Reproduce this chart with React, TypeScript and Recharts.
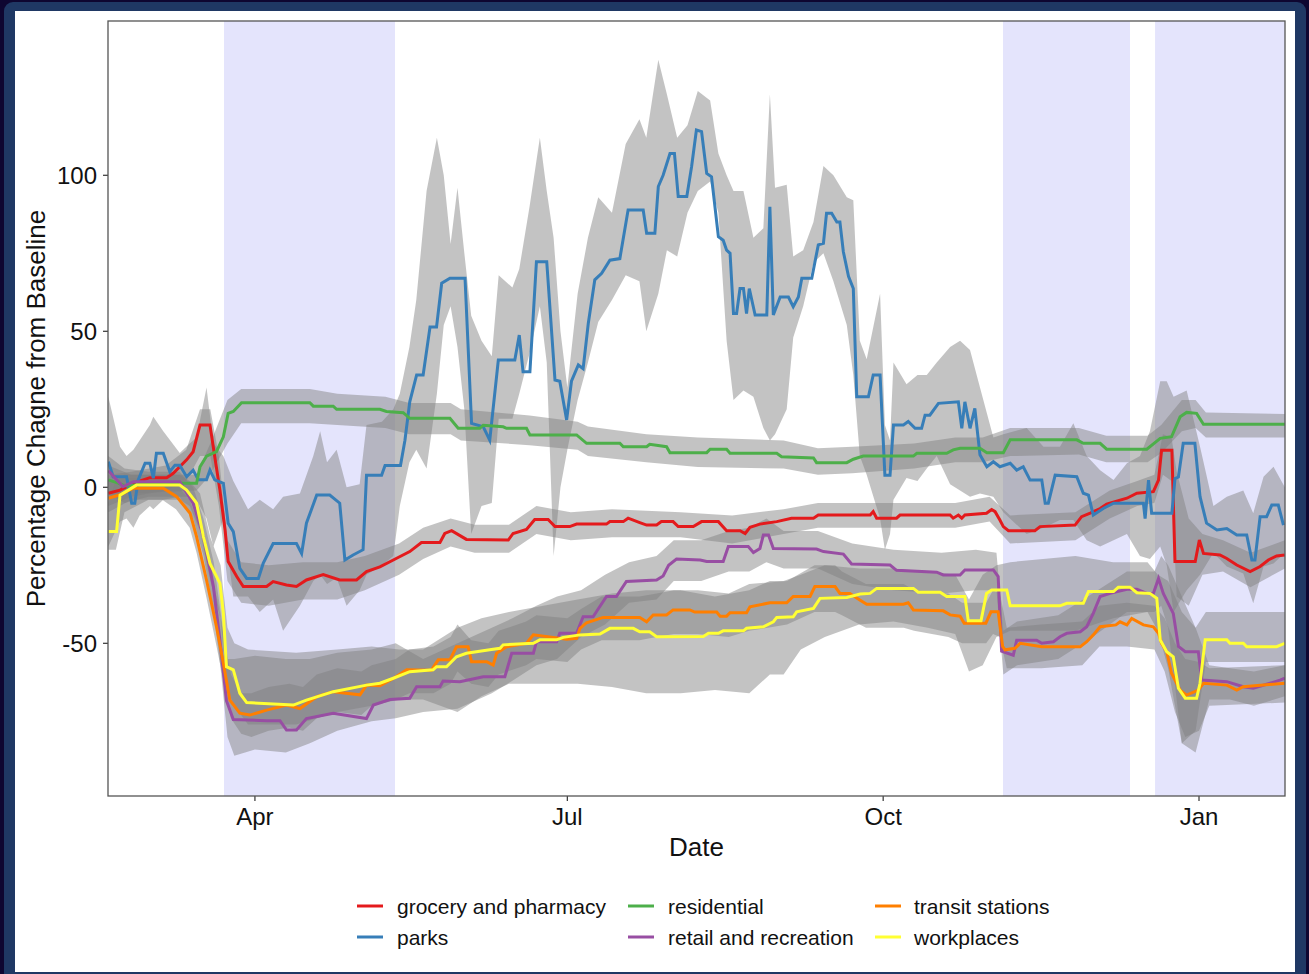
import React from "react";
import { ComposedChart, Area, Line, XAxis, YAxis, ReferenceArea } from "recharts";

// x = days since 15 Feb 2020
const monthTicks = [46, 137, 229, 321];
const monthLabels = ["Apr", "Jul", "Oct", "Jan"];
const yTicks = [-50, 0, 50, 100];
const lockdowns: [number, number][] = [[37, 86.8], [263.9, 300.9], [308.2, 346.05]];

const groceryLine: [number, number][] = [[3.3,-1.9],[6.7,-0.9],[10.6,1.3],[15.4,3.1],[20.3,3.1],[22.2,4.5],[26.1,8.8],[28,11.4],[30,20],[32.9,20],[34.3,9.8],[35.8,-0.9],[37.3,-13.7],[38.2,-23.8],[40.7,-28.6],[42.6,-31.8],[49.4,-31.8],[51.3,-30.2],[55.2,-31.3],[58.1,-31.8],[61,-29.7],[65.9,-28],[70.7,-29.7],[75.6,-29.7],[78.5,-27],[82.4,-25.5],[86.3,-23.3],[91.1,-20.6],[94.5,-17.7],[99.9,-17.7],[101.3,-14.8],[103.3,-13.9],[107.6,-16.7],[119.8,-16.9],[121.2,-14.8],[125.1,-13.5],[127.5,-10.3],[131.4,-10.3],[133.4,-12.6],[137.7,-12.6],[139.7,-11.8],[148.4,-11.8],[149.4,-11],[153.3,-11],[154.7,-9.9],[158.1,-11.3],[160.1,-12.1],[163,-12.1],[164.4,-11],[167.8,-11],[169.3,-12.6],[173.7,-12.6],[176.1,-11],[181,-11],[183.4,-13.9],[187.3,-13.9],[188.8,-14.8],[190.2,-12.8],[193.1,-11.8],[198,-11],[202.3,-9.9],[208.7,-9.9],[210.1,-8.9],[225.2,-8.9],[226.1,-7.8],[227.1,-9.9],[232.9,-9.9],[233.9,-8.9],[248.5,-8.9],[249.4,-9.9],[250.9,-8.9],[251.9,-9.9],[252.8,-8.9],[259.1,-8.3],[260.6,-7.1],[261.6,-7.8],[263,-10.5],[264,-12.6],[265.5,-13.9],[273.2,-13.9],[274.7,-12.6],[284.9,-12.1],[286.8,-9.4],[289.3,-8.3],[292.2,-6.8],[294.1,-5.4],[300,-3.5],[302.9,-1.9],[307.7,-1.4],[309.2,2.3],[310.1,11.9],[313.1,11.9],[314,-23.8],[319.9,-23.8],[321.1,-16.9],[322.3,-21.2],[327.1,-21.7],[329.1,-22.8],[332,-24.9],[335.9,-27],[338.8,-25.4],[341.2,-23.3],[343.6,-22],[346,-21.7]];

const parksLine: [number, number][] = [[3.3,8.2],[4.7,3.4],[8.6,3.4],[10.1,-5.1],[11,-5.1],[12,2.4],[14,7.7],[15.4,7.7],[16.4,2.9],[17.3,10.9],[19.3,10.9],[21.2,5],[22.7,7.1],[24.1,7.1],[26.1,3.4],[28,5.5],[29.5,2.4],[31.9,2.4],[32.9,5.5],[34.3,2.4],[36.8,1.3],[38.2,-11.5],[39.7,-14.2],[41.6,-26],[43.6,-29.2],[47,-29.2],[48.4,-24.4],[51.3,-18],[58.1,-18],[59.6,-21.2],[61,-11.5],[64,-2.5],[67.8,-2.5],[70.7,-5.1],[72.2,-23.3],[74.6,-21.7],[77.5,-20],[78.5,3.9],[82.9,3.9],[83.9,7],[88.4,7],[89.7,15.1],[91.1,27.4],[93.1,36],[95,36],[97,51.4],[98.9,51.4],[100.4,65.4],[102.8,67],[107.2,67],[109.1,20.5],[112.5,19.4],[114.4,15.1],[116.9,40.8],[121.7,40.8],[123,48.8],[124.1,37],[126.1,37],[128,72.3],[131,72.3],[133.4,34.4],[134.8,34],[136.8,21.6],[138.2,34],[140.2,39.2],[141.6,38],[143.1,52.5],[145,66.5],[147,68.6],[149.4,72.8],[152.3,73.3],[154.7,88.9],[159.1,88.9],[160.1,81.4],[162.5,81.4],[163.5,96.4],[164.9,100],[166.9,107],[168.2,107],[169.3,93.2],[171.8,93.2],[173.2,102.8],[174.6,114.5],[176.1,114],[177.6,100.6],[179,99.5],[181,80.3],[182.4,79.2],[183.4,76],[184.4,75],[185.4,55.7],[186.3,55.7],[187.3,63.7],[188.3,63.7],[189.2,55.7],[190,63.7],[191.7,55.2],[195.1,55.2],[196,89.9],[197,55.2],[199,61],[201.4,61],[202.8,57.9],[204.3,61],[205.3,67],[208.2,67],[210.1,77.7],[211.6,78.2],[212.5,87.8],[214,87.8],[215.5,85],[216.4,85],[217.4,75.5],[218.9,67.6],[220.3,63.7],[221.3,29],[224.7,29],[226.1,36],[228.1,36],[229.5,3.9],[231,3.9],[232,20],[234.9,20],[236.3,21.1],[238.3,18.9],[240.2,18.9],[241.2,23.1],[242.6,23.1],[245.1,26.9],[250.9,27.4],[251.9,18.9],[252.8,27.4],[254.3,18.9],[255.7,25.3],[257.2,10.4],[259.2,6.6],[261.1,8.2],[263,6.6],[266,7.7],[267.9,5.5],[269.8,6.6],[271.8,2.3],[275.2,2.3],[276.2,-5.1],[277.1,-5.1],[279.1,3.9],[285.4,3.4],[287.3,-1.9],[288.8,-2.5],[290.2,-8.9],[293.1,-6.8],[296.1,-5.1],[304.8,-5.1],[305.3,-10],[306.3,2.3],[307.2,-8.3],[313.1,-8.3],[314,2.8],[315,3.3],[316.4,14.1],[319.8,14.1],[321.3,-3],[323.2,-11.5],[326.2,-13.7],[329.1,-13.2],[332,-15.3],[334.9,-15.3],[336.4,-23.3],[337.3,-23.3],[338.8,-9.4],[340.7,-9.4],[342.2,-5.7],[344.1,-5.7],[345.6,-12.1]];

const residentialLine: [number, number][] = [[3.3,2.4],[8.6,0.4],[15.4,1.3],[29,1.3],[30,6.6],[31.9,10],[34.8,11.4],[36.8,16.2],[38.2,23.7],[39.7,24.3],[42.1,27.1],[62,27.1],[63,26],[68.8,26],[69.8,25],[82.4,25],[84.3,24.3],[89.2,23.9],[91.1,22.1],[102.8,22.1],[105.2,18.9],[111.5,18.9],[112.5,19.9],[118.3,19.4],[119.3,18.9],[125.1,18.9],[126.1,16.8],[139.7,16.8],[142.6,14.1],[152.3,14.1],[153.3,13],[160.1,13],[161,13.8],[165.9,13],[166.9,11.1],[177.6,11.1],[178.6,12.2],[183.4,12.2],[184.4,10.9],[198,10.9],[199.4,9.8],[208.7,9.4],[209.6,7.9],[218.4,7.9],[220.3,9],[223.2,10],[237.8,10],[238.8,10.9],[247.5,10.9],[249.4,12],[251.4,12.5],[257.2,12.5],[259.2,11.1],[264,11.1],[266,15.2],[285.4,15.2],[287.3,14.1],[292.2,14.1],[294.1,12.2],[305.8,12.2],[309.7,15.7],[313,16.2],[315.5,22.6],[317.4,24],[320.3,23.7],[322.3,20.2],[346,20.2]];

const retailLine: [number, number][] = [[3.3,5.3],[5.7,2.4],[7.6,0.2],[10.6,1.8],[24.1,1.8],[28,-5.1],[31,-15.8],[33.9,-31.8],[35.8,-49],[37.7,-68.4],[39.7,-74.4],[49.4,-74.8],[53.3,-74.8],[55.2,-77.8],[58.1,-77.8],[61,-74.1],[68.8,-72.4],[78.5,-74.1],[80.5,-69.8],[85.3,-68],[91.1,-67.6],[93.1,-63.9],[99.9,-63.9],[100.8,-62.1],[105.7,-62.3],[112.5,-60.7],[118.8,-60.7],[120.8,-53.2],[127.1,-53.2],[128,-49.5],[133.9,-49.5],[134.8,-46.8],[139.7,-46.8],[141.6,-41.5],[144.5,-41.5],[148.4,-35],[151.3,-35],[154.2,-30.2],[163,-29.7],[164.9,-28.4],[166.5,-25],[168.8,-23],[175.7,-23.3],[177.6,-23.8],[182.4,-23.8],[183.9,-19],[189.7,-19],[191.2,-20.9],[193.1,-19.6],[194.1,-15.3],[195.6,-15.3],[197,-19.6],[209.6,-19.8],[211.6,-20.6],[217.4,-21.4],[219.8,-24.6],[231,-24.9],[232.9,-26.6],[244.6,-27.2],[246.5,-28.1],[251.4,-28.1],[252.8,-26.5],[261.1,-26.5],[262.5,-28.6],[263.5,-52.5],[266.9,-53.8],[267.9,-49],[273.7,-49],[275.2,-50],[278.6,-49.5],[280.5,-47.9],[282.5,-46.8],[286.4,-46.3],[288.3,-44.7],[290.2,-40.4],[292.2,-35],[295.1,-34],[300,-32.7],[302.9,-32.7],[305.8,-34],[307.7,-34],[309.2,-29.2],[310.6,-34],[313.5,-40.4],[315,-51],[317,-52.7],[320.8,-52.7],[321.8,-61.8],[329.1,-62.3],[333.9,-63.9],[336.8,-64.4],[341.7,-62.8],[344.6,-61.8],[346,-61.2]];

const transitLine: [number, number][] = [[3.3,-3.5],[6.7,-2.4],[10.6,-0.3],[19.3,-0.3],[23.2,-3],[27.1,-8.3],[29,-15.8],[31.9,-29.7],[34.8,-44.7],[36.8,-56.4],[38.7,-68.2],[41.6,-72.4],[44.5,-73],[49.4,-71.4],[55.2,-69.8],[59.1,-70.9],[64,-67.1],[68.8,-65.5],[76.6,-66.5],[78.5,-63.4],[82.4,-63.6],[86.3,-61.3],[90.2,-58.5],[97.4,-58.6],[99.4,-55.3],[102.8,-55.3],[104.7,-51.1],[108.1,-51.1],[109.1,-55.9],[113.5,-55.9],[115.4,-57],[116.4,-53.2],[119.3,-51.1],[125.1,-50],[127.1,-47.3],[136.8,-48.7],[139.7,-48.4],[140.7,-45.2],[142.6,-43.4],[147.4,-41.7],[158.1,-41.7],[160.1,-43.1],[162,-40.9],[165.9,-40.9],[167.8,-39.3],[172.7,-39.3],[174.1,-40],[180.5,-40],[181.5,-41.3],[183.4,-41.3],[184.4,-40.2],[189.2,-40.2],[190.2,-38.3],[196,-37],[200.9,-37],[202.8,-35],[207.7,-35],[209.1,-31.8],[215,-31.8],[216.4,-34],[219.3,-34],[222.2,-36.1],[224.2,-37.5],[234.9,-37.5],[236.3,-37],[237.8,-39.3],[246.5,-39.6],[248.5,-40.9],[251.4,-41.3],[252.6,-43.6],[258.9,-43.6],[260.4,-39.9],[262.5,-39.9],[263.8,-51],[264.5,-52.1],[267.4,-51.6],[268.9,-50],[275.2,-51.1],[286.4,-51.1],[288.3,-49.5],[290.2,-47.3],[292.2,-44.7],[296.8,-44.1],[298,-43.1],[300,-44.1],[301.4,-42],[304.8,-44.1],[307.7,-44.7],[309.2,-46.8],[310.1,-50],[311.6,-52.7],[313,-59.6],[315.5,-65],[317.4,-66.6],[320.8,-65],[322.3,-62.8],[329.1,-63.4],[332,-65],[333.9,-63.9],[346,-62.8]];

const workplacesLine: [number, number][] = [[3.3,-14.2],[5.7,-14.2],[6.7,-2.5],[11.5,0.7],[24.1,0.7],[26.1,-0.9],[29,-5.1],[31,-15.8],[32.9,-24.4],[35.8,-30.8],[36.8,-40.4],[37.7,-57.5],[39.7,-58.5],[41.6,-66],[43.6,-69],[57.2,-69.8],[61,-68.2],[68.8,-65.5],[78.5,-63.4],[82.4,-62.8],[86.3,-61.2],[91.1,-59.1],[97.9,-58.5],[98.9,-57.5],[101.8,-57.5],[104.7,-54.3],[107.6,-53.2],[114.4,-52.1],[117.4,-51.6],[118.3,-50.5],[127.1,-50],[129,-48.9],[133.9,-48.9],[135.8,-48.1],[140.7,-47.3],[146.5,-47],[149.4,-45.2],[156.2,-45.2],[158.1,-46.3],[161,-46.3],[163,-47.9],[176.6,-47.8],[178.1,-46.8],[181,-46.8],[182.4,-46],[188.3,-46],[189.2,-45.2],[194.1,-44.7],[197,-43.1],[198,-41.7],[202.8,-41.5],[203.8,-39.9],[208.7,-38.8],[210.6,-35.6],[218.4,-35.3],[222.3,-34.2],[225.2,-34],[227.1,-32.4],[237.8,-32.4],[239.2,-33.6],[245.6,-33.6],[247.5,-35],[252.8,-35],[253.8,-42.8],[257.5,-42.8],[259.1,-34],[260.6,-32.9],[265,-32.9],[266,-38],[280.5,-38],[282.5,-37.2],[287.3,-37.2],[288.8,-33.4],[296.1,-33.4],[297.5,-32],[300.9,-32],[302.9,-33.8],[306.7,-34],[308.7,-35.6],[309.7,-48.9],[311.6,-52.7],[313.5,-54.3],[315,-64.4],[317,-67.6],[320.3,-67.6],[321.3,-62.8],[322.8,-48.9],[329.1,-48.9],[330,-50],[333.9,-50],[334.9,-51.1],[343.6,-51.1],[346,-50]];

// bands: [day, low, high]
const groceryBand: [number, number, number][] = [[3.3,-6,4],[10,-3,5],[20,-1,7],[26,2,12],[30,10,25],[33,10,25],[35.5,-6,10],[38,-30,-17],[42,-37,-24],[50,-38,-25],[60,-36,-24],[70,-36,-24],[78,-33,-22],[88,-28,-18],[95,-23,-13],[103,-19,-10],[110,-21,-12],[120,-21,-12],[128,-15,-6],[138,-17,-8],[150,-16,-7],[160,-16,-7.5],[170,-16,-8],[185,-18,-9],[200,-15,-7],[210,-13,-5],[230,-13,-5],[250,-13,-5],[260,-11,-3],[266,-18,-9],[285,-17,-8],[295,-10,-1],[303,-6,2],[308,-5,4],[310.5,4,17],[313,2,16],[314.5,-35,5],[318,-38,-10],[322,-28,-15],[328,-27,-17],[336,-32,-21],[346,-26,-17]];

const parksBand: [number, number, number][] = [[3.3,-19,29],[6.7,-11,13],[8.6,-10,10],[10.6,-13,12],[12.4,-9,15],[15.4,-6,20],[16.4,-7,22.6],[19.3,-4,18],[24.1,-3,11],[27,-3,14],[29,-4,16],[31.9,-10,32],[33.9,-19,14],[36.8,-10,10],[39.7,-35,2],[44,-35,-7],[47.4,-40,-4],[51.3,-36,-7],[54.2,-46,-3],[59.1,-38,-2],[63,-30,10],[65,-28,18],[67,-31,8],[69.8,-29,12],[72.7,-38,0],[76.5,-33,1],[78.5,-28,20],[83,-25,21],[86.3,-22,25],[88.2,-6,30],[91,8,45],[93,12,60],[96,6,95],[99,30,112],[101,52,100],[103,58,78],[105,45,96],[107,25,75],[109,-15,55],[112,-6,47],[115,-5,42],[117,22,68],[121,22,64],[123,30,70],[126,43,90],[129,58,112],[131,40,95],[133,-22,80],[135,0,50],[137,12,32],[140,28,62],[143,40,80],[146,53,93],[150,60,88],[154,68,110],[158,66,118],[160,50,112],[163.5,62,137],[166,76,126],[169,74,112],[172,88,116],[175,95,127],[178.6,98,124],[181,88,107],[183.4,47,100],[185.4,28,95],[188.3,31,95],[191.2,29,80],[194.1,19,83],[196,15,126],[197.5,17,96],[200.9,25,97],[202.8,48,74],[205.7,58,76],[208.7,72,85],[211.6,75,103],[214.5,66,100],[218.4,52,93],[220.3,36,92],[222.2,10,47],[224.2,4,41],[228.1,-10,62],[229.5,-20,20],[231,-15,15],[232,-4,40],[235.8,3,33],[239,2,36],[241.7,6,36],[244.6,10,40],[248.5,1,45],[251.4,-1,47],[254.3,-3,44],[257.2,-2,32],[261.1,-3,16],[264,-8,17],[270.8,-15,19],[275.7,-13,13],[280.5,-10.5,13],[284.4,-10.5,20.5],[288.3,-17,10],[292.2,-19,5.5],[296.1,-17,2.3],[300,-15,7.7],[303.8,-22,10],[306.7,-23,18],[309.7,-19,34],[311.6,-25,34],[313.6,-40,29],[317.4,-33,31],[321.3,-28,13],[325.2,-21,-6],[329.1,-25.4,-3],[333.9,-27.6,-1],[336.8,-37.2,-8.3],[339.8,-25.4,3.4],[342.7,-24.4,6.6],[346,-21,0]];

const residentialBand: [number, number, number][] = [[3.3,-3,7],[10,-2,4],[20,-1.5,4],[29,-1,4],[33,4,14],[38,14,28],[42,20.5,31.5],[62,20.5,31.5],[70,20,30],[84,19,29],[91,17,27],[103,17,27],[106,15,25],[126,13.5,23],[140,12,21],[143,10,19.5],[160,8,17],[175,6.5,16],[200,6,15],[210,4,12.5],[220,4.5,13],[238,6,14],[250,8,16],[258,8,16],[266,10,19],[286,10.5,19],[294,8,16.5],[306,8,16.5],[310,11,20],[316,18,28],[320,19,28],[323,16,24],[346,16,23.5]];

const retailBand: [number, number, number][] = [[3.3,-2,10],[8,-5,6],[15,-3,5],[24,-3,5],[28,-10,0],[31,-22,-10],[34,-40,-24],[36,-58,-40],[38,-80,-55],[40,-86,-55],[46,-84,-54],[55,-85,-55],[62,-82,-55],[70,-78,-53],[80,-75,-52],[87,-74,-50],[95,-72,-55],[105,-71,-50],[115,-66,-45],[121,-62,-42],[128,-57,-38],[134,-55,-35],[141,-48,-33],[148,-44,-28],[155,-37,-24],[163,-36,-22],[168,-30,-17],[176,-30,-17],[184,-27,-14],[190,-27,-13],[195,-24,-10],[200,-26,-14],[210,-26,-14],[220,-31,-18],[232,-33,-20],[246,-34,-21],[256,-33,-20],[262,-33,-21],[264,-60,-46],[268,-57,-43],[280,-55,-41],[290,-48,-34],[300,-40,-27],[308,-40,-27],[310,-38,-22],[312,-45,-25],[316,-82,-35],[320,-85,-45],[324,-68,-57],[330,-68,-58],[337,-70,-59],[346,-67,-57]];

const transitBand: [number, number, number][] = [[3.3,-8,2],[10,-4,3],[19,-4,3],[23,-7,1],[27,-13,-4],[29,-21,-10],[32,-36,-22],[35,-52,-36],[37,-63,-48],[39,-74,-60],[42,-79,-66],[45,-80,-66],[50,-78,-64],[56,-77,-63],[60,-78,-64],[64,-74,-60],[70,-72,-58],[77,-73,-59],[80,-70,-57],[87,-68,-55],[91,-66,-52],[98,-66,-51],[103,-63,-48],[105,-59,-44],[109,-63,-49],[114,-64,-50],[117,-60,-46],[125,-57,-43],[128,-55,-41],[137,-56,-42],[141,-52,-39],[147,-49,-35],[158,-49,-35],[163,-48,-34],[168,-47,-33],[175,-47,-33],[184,-48,-34],[190,-46,-31],[201,-44,-30],[209,-40,-25],[215,-40,-25],[217,-41,-27],[224,-45,-31],[235,-45,-31],[238,-46,-33],[248,-48,-34],[252,-50,-37],[259,-50,-37],[261,-47,-33],[263,-48,-34],[265,-58,-45],[275,-58,-44],[287,-57,-43],[292,-51,-38],[300,-51,-37],[308,-52,-38],[311,-59,-42],[314,-72,-50],[317,-80,-55],[321,-78,-56],[324,-70,-58],[346,-69,-57]];

const workplacesBand: [number, number, number][] = [[3.3,-20,-5],[5.5,-20,2],[8,-8,4],[15,-4,4],[24,-4,4],[27,-6,2],[30,-14,-2],[33,-30,-16],[36,-42,-25],[38,-65,-45],[40,-70,-50],[44,-76,-52],[58,-76,-53],[70,-72,-52],[80,-70,-51],[88,-68,-52],[95,-68,-52],[105,-72,-45],[112,-67,-42],[120,-63,-40],[130,-63,-38],[140,-63,-36],[150,-64,-34],[160,-66,-33],[170,-66,-33],[180,-65,-35],[190,-66,-33],[196,-60,-30],[200,-60,-30],[205,-52,-28],[212,-48,-25],[222,-44,-26],[232,-43,-26],[242,-45,-27],[250,-47,-28],[254,-59,-36],[258,-57,-28],[262,-48,-25],[266,-46,-24],[285,-46,-22],[296,-42,-24],[306,-40,-24],[309,-46,-28],[312,-58,-30],[316,-82,-40],[320,-78,-45],[323,-56,-40],[346,-56,-40]];

const seriesNames = ["grocery and pharmacy", "parks", "residential", "retail and recreation", "transit stations", "workplaces"];
const seriesColors = ["#E41A1C", "#377EB8", "#4DAF4A", "#984EA3", "#FF7F00", "#FFFF33"];
const lineSets = [groceryLine, parksLine, residentialLine, retailLine, transitLine, workplacesLine];
const bandSets = [groceryBand, parksBand, residentialBand, retailBand, transitBand, workplacesBand];

const toLine = (a: [number, number][]) => a.map(([d, v]) => ({ d, v }));
const toBand = (a: [number, number, number][]) => a.map(([d, lo, hi]) => ({ d, r: [lo, hi] }));

const FONT = "'Liberation Sans', Arial, Helvetica, sans-serif";

const PLOT_LEFT = 108;
const PLOT_TOP = 21;
const PLOT_RIGHT = 1285;
const PLOT_BOTTOM = 796;

export default function App() {
  const legendCols = [
    { keyX: 357, textX: 397 },
    { keyX: 628, textX: 668 },
    { keyX: 875, textX: 914 },
  ];
  const legendRows = [906, 937];
  return (
    <div style={{ position: "absolute", left: 0, top: 0, width: 1309, height: 974, background: "#0e0631", overflow: "hidden", fontFamily: FONT }}>
      <div style={{ position: "absolute", left: 4, top: 2, width: 1302, height: 990, background: "#1f3864", borderRadius: 9 }} />
      <div style={{ position: "absolute", left: 15, top: 11, width: 1280, height: 961, background: "#ffffff" }} />
      <div style={{ position: "absolute", left: 0, top: 0 }}>
        <ComposedChart
          width={1309}
          height={974}
          margin={{ top: PLOT_TOP, right: 1309 - PLOT_RIGHT, bottom: 974 - PLOT_BOTTOM - 40, left: 0 }}
        >
          <XAxis
            type="number"
            dataKey="d"
            domain={[3.2, 346.05]}
            allowDataOverflow
            ticks={monthTicks}
            tickFormatter={(v: number) => monthLabels[monthTicks.indexOf(v)] ?? ""}
            height={40}
            axisLine={false}
            tickSize={5}
            tickMargin={7}
            tickLine={{ stroke: "#333333", strokeWidth: 1.2 }}
            tick={{ fill: "#111111", fontSize: 24, fontFamily: FONT }}
            interval={0}
          />
          <YAxis
            type="number"
            domain={[-98.94, 149.45]}
            allowDataOverflow
            ticks={yTicks}
            width={PLOT_LEFT}
            axisLine={false}
            tickSize={5}
            tickMargin={6}
            tickLine={{ stroke: "#333333", strokeWidth: 1.2 }}
            tick={{ fill: "#111111", fontSize: 24, fontFamily: FONT }}
            interval={0}
          />
          {lockdowns.map(([a, b], i) => (
            <ReferenceArea key={"ld" + i} x1={a} x2={b} fill="#e4e4fc" fillOpacity={1} stroke="none" ifOverflow="hidden" zIndex={-10} />
          ))}
          {bandSets.map((b, i) => (
            <Area
              key={"band" + i}
              data={toBand(b)}
              dataKey="r"
              type="linear"
              stroke="none"
              fill="#7f7f7f"
              fillOpacity={0.47}
              isAnimationActive={false}
              dot={false}
              activeDot={false}
            />
          ))}
          {lineSets.map((l, i) => (
            <Line
              key={"line" + i}
              data={toLine(l)}
              dataKey="v"
              name={seriesNames[i]}
              type="linear"
              stroke={seriesColors[i]}
              strokeWidth={3}
              dot={false}
              activeDot={false}
              isAnimationActive={false}
            />
          ))}
        </ComposedChart>
      </div>
      <svg width={1309} height={974} style={{ position: "absolute", left: 0, top: 0, pointerEvents: "none" }}>
        <rect x={PLOT_LEFT} y={PLOT_TOP} width={PLOT_RIGHT - PLOT_LEFT} height={PLOT_BOTTOM - PLOT_TOP} fill="none" stroke="#555555" strokeWidth={1.3} />
        <text x={696.5} y={856} textAnchor="middle" fontSize={26} fill="#111111" fontFamily={FONT}>Date</text>
        <text transform="translate(45,408.5) rotate(-90)" textAnchor="middle" fontSize={26} fill="#111111" fontFamily={FONT}>Percentage Chagne from Baseline</text>
        {seriesNames.map((n, i) => {
          const col = legendCols[Math.floor(i / 2)];
          const y = legendRows[i % 2];
          return (
            <g key={"lg" + i}>
              <line x1={col.keyX} x2={col.keyX + 26} y1={y} y2={y} stroke={seriesColors[i]} strokeWidth={3} />
              <text x={col.textX} y={y + 7.5} fontSize={21} fill="#111111" fontFamily={FONT}>{n}</text>
            </g>
          );
        })}
      </svg>
    </div>
  );
}
